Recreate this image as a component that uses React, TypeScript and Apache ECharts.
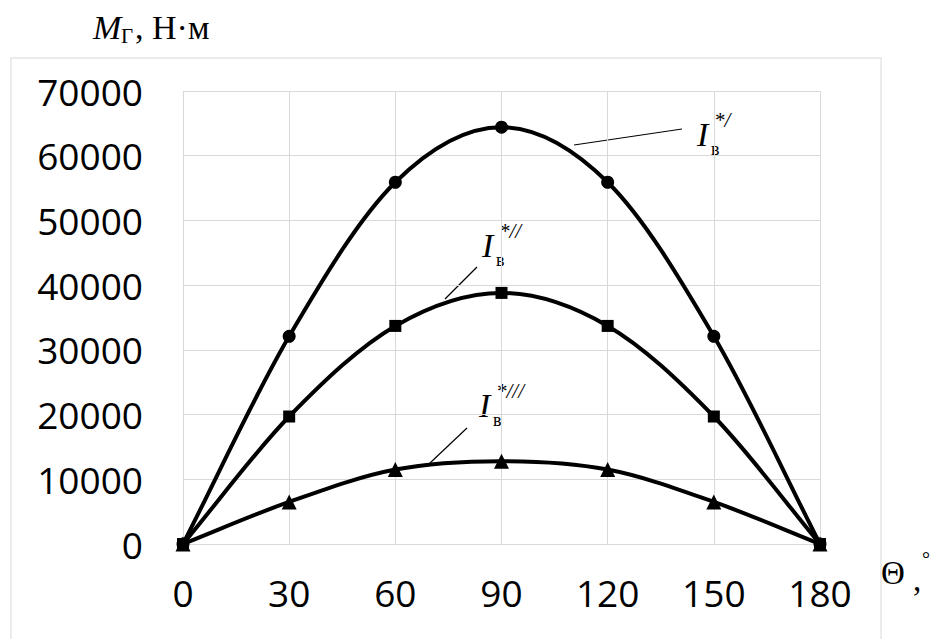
import React, { useEffect, useRef } from "react";
import * as echarts from "echarts";

const angles = [0, 30, 60, 90, 120, 150, 180];
const seriesI1 = [0, 32100, 55900, 64400, 55900, 32100, 0];
const seriesI2 = [0, 19700, 33700, 38800, 33700, 19700, 0];
const seriesI3 = [0, 6500, 11500, 12800, 11500, 6500, 0];
const markerShapes = ["circle", "rect", "triangle"];
const markerSizes = [13, 12, 15];
const supTexts = ["*/", "*//", "*///"];

const serif = "'Liberation Serif', 'DejaVu Serif', serif";

function curveLabel(ix: number, iy: number, sup: string) {
  return [
    {
      type: "text",
      x: ix,
      y: iy,
      style: { text: "I", font: `italic 34px ${serif}`, fill: "#000", align: "left", verticalAlign: "middle" },
    },
    {
      type: "text",
      x: ix + 14,
      y: iy + 15,
      style: { text: "в", font: `18px ${serif}`, fill: "#000", align: "left", verticalAlign: "middle" },
    },
    {
      type: "text",
      x: ix + 17,
      y: iy - 14,
      style: { text: sup, font: `italic 21px ${serif}`, fill: "#000", align: "left", verticalAlign: "middle" },
    },
  ];
}

function makeCurveRenderer(vals: number[]) {
  return (params: any, api: any) => {
    if (params.dataIndex !== 0) return null;
    const pts = angles.map((a, j) => api.coord([a, vals[j]]));
    const n = pts.length;
    const tan = pts.map((p, i) => {
      const prev = pts[Math.max(0, i - 1)];
      const next = pts[Math.min(n - 1, i + 1)];
      const k = i === 0 || i === n - 1 ? 1 : 0.5;
      return [(next[0] - prev[0]) * k, (next[1] - prev[1]) * k];
    });
    let d = `M${pts[0][0]},${pts[0][1]}`;
    for (let i = 0; i < n - 1; i++) {
      const c1 = [pts[i][0] + tan[i][0] / 3, pts[i][1] + tan[i][1] / 3];
      const c2 = [pts[i + 1][0] - tan[i + 1][0] / 3, pts[i + 1][1] - tan[i + 1][1] / 3];
      d += ` C${c1[0]},${c1[1]} ${c2[0]},${c2[1]} ${pts[i + 1][0]},${pts[i + 1][1]}`;
    }
    return {
      type: "path",
      shape: { pathData: d },
      style: { fill: "none", stroke: "#000", lineWidth: 4, lineJoin: "round", lineCap: "round" },
    };
  };
}

export default function App() {
  const ref = useRef<HTMLDivElement>(null);
  useEffect(() => {
    if (!ref.current) return;
    const chart = echarts.init(ref.current, null, { renderer: "svg" });
    const all = [seriesI1, seriesI2, seriesI3];
    const curves = all.map((vals) => ({
      type: "custom",
      renderItem: makeCurveRenderer(vals),
      data: angles.map((a, j) => [a, vals[j]]),
      encode: { x: 0, y: 1 },
      silent: true,
      z: 2,
    }));
    const markers = all.map((vals, i) => ({
      type: "scatter",
      data: angles.map((a, j) => [a, vals[j]]),
      symbol: markerShapes[i],
      symbolSize: markerSizes[i],
      itemStyle: { color: "#000", opacity: 1 },
      z: 3,
    }));
    const option: any = {
      animation: false,
      backgroundColor: "#fff",
      grid: { left: 183, right: 124, top: 91, bottom: 95, outerBoundsMode: "none" },
      xAxis: {
        type: "value",
        min: 0,
        max: 180,
        interval: 30,
        axisLine: { show: false },
        axisTick: { show: false },
        axisLabel: { fontFamily: "'Open Sans'", fontSize: 37, color: "#000", margin: 30 },
        splitLine: { show: true, lineStyle: { color: "#d9d9d9", width: 1 } },
      },
      yAxis: {
        type: "value",
        min: 0,
        max: 70000,
        interval: 10000,
        axisLine: { show: false },
        axisTick: { show: false },
        axisLabel: {
          fontFamily: "'Open Sans'",
          fontSize: 37,
          color: "#000",
          margin: 40,
          formatter: (v: number) => String(v),
        },
        splitLine: { show: true, lineStyle: { color: "#d9d9d9", width: 1 } },
      },
      series: [...curves, ...markers],
      graphic: [
        {
          type: "rect",
          shape: { x: 11, y: 58, width: 870, height: 620 },
          style: { fill: "none", stroke: "#ebebeb", lineWidth: 2 },
          silent: true,
        },
        {
          type: "text",
          x: 93,
          y: 27,
          style: { text: "M", font: `italic 34px ${serif}`, fill: "#000", verticalAlign: "middle" },
        },
        {
          type: "text",
          x: 121,
          y: 36,
          style: { text: "Г", font: `21px ${serif}`, fill: "#000", verticalAlign: "middle" },
        },
        {
          type: "text",
          x: 135,
          y: 27,
          style: { text: ", Н·м", font: `34px ${serif}`, fill: "#000", verticalAlign: "middle" },
        },
        {
          type: "text",
          x: 881,
          y: 573,
          style: { text: "Θ", font: `33px ${serif}`, fill: "#000", verticalAlign: "middle" },
        },
        {
          type: "text",
          x: 913,
          y: 580,
          style: { text: ",", font: `33px ${serif}`, fill: "#000", verticalAlign: "middle" },
        },
        {
          type: "text",
          x: 922,
          y: 559,
          style: { text: "°", font: `20px ${serif}`, fill: "#000", verticalAlign: "middle" },
        },
        { type: "line", shape: { x1: 574, y1: 145, x2: 682, y2: 129 }, style: { stroke: "#000", lineWidth: 1.2 } },
        { type: "line", shape: { x1: 445, y1: 299, x2: 477, y2: 267 }, style: { stroke: "#000", lineWidth: 1.2 } },
        { type: "line", shape: { x1: 430, y1: 463, x2: 467, y2: 428 }, style: { stroke: "#000", lineWidth: 1.2 } },
        ...curveLabel(697, 134, supTexts[0]),
        ...curveLabel(482, 245, supTexts[1]),
        ...curveLabel(479, 405, supTexts[2]),
      ],
    };
    chart.setOption(option);
    return () => chart.dispose();
  }, []);
  return (
    <div
      ref={ref}
      style={{ position: "fixed", left: 0, top: 0, width: 944, height: 639, background: "#fff" }}
    />
  );
}
